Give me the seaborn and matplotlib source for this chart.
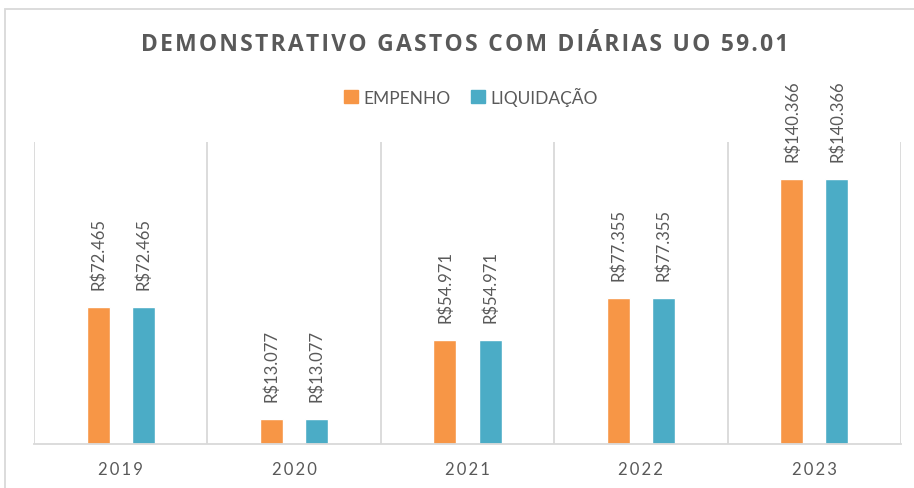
import matplotlib
matplotlib.use("Agg")
import matplotlib.pyplot as plt
import matplotlib.patches as patches
import pandas as pd
import seaborn as sns

# ---------------------------------------------------------------------------
# Data
# ---------------------------------------------------------------------------
ANOS = ["2019", "2020", "2021", "2022", "2023"]
EMPENHO = [72465, 13077, 54971, 77355, 140366]
LIQUIDACAO = [72465, 13077, 54971, 77355, 140366]
SERIES = ["EMPENHO", "LIQUIDAÇÃO"]
TITULO = "DEMONSTRATIVO GASTOS COM DIÁRIAS UO 59.01"

CORES = ["#F79646", "#4BACC6"]
CINZA_TEXTO = "#595959"
CINZA_LINHA = "#D9D9D9"


def espacado(texto, sep="\u200a"):
    """Fake letter spacing with hair spaces."""
    return sep.join(texto)


def moeda(v):
    return "R$" + f"{v:,.0f}".replace(",", ".")


df = pd.DataFrame({
    "ano": ANOS * 2,
    "serie": [SERIES[0]] * len(ANOS) + [SERIES[1]] * len(ANOS),
    "valor": EMPENHO + LIQUIDACAO,
})

sns.set_theme(style="white")
plt.rcParams["font.family"] = ["Lato", "DejaVu Sans"]

fig = plt.figure(figsize=(9.14, 4.89), dpi=100)
ax = fig.add_axes([34 / 914, 1 - 445 / 489, (901 - 34) / 914, (445 - 143) / 489])

sns.barplot(data=df, x="ano", y="valor", hue="serie", palette=CORES,
            width=0.52, gap=0.49, ax=ax, legend=False, saturation=1)

for cont in ax.containers:
    ax.bar_label(cont, labels=[moeda(b.get_height()) for b in cont],
                 rotation=90, padding=13, fontsize=12, color=CINZA_TEXTO)

ax.set_xlim(-0.5, len(ANOS) - 0.5)
ax.set_ylim(0, 160000)
for x in range(len(ANOS) + 1):
    ax.axvline(x - 0.5, color=CINZA_LINHA, lw=1.3, zorder=0)
for s in ["top", "left", "right"]:
    ax.spines[s].set_visible(False)
ax.spines["bottom"].set_color(CINZA_LINHA)
ax.spines["bottom"].set_linewidth(1.3)
ax.set_yticks([])
ax.set_xlabel("")
ax.set_ylabel("")
ax.set_xticks(range(len(ANOS)))
ax.set_xticklabels([espacado(a, "\u2009") for a in ANOS], fontsize=12, color=CINZA_TEXTO)
ax.tick_params(axis="x", length=0, pad=12)

fig.text(0.508, 1 - 45 / 489, espacado(TITULO), ha="center", va="center",
         fontsize=16.5, fontweight="bold", color=CINZA_TEXTO,
         family=["Open Sans", "DejaVu Sans"])

handles = [patches.Patch(color=c) for c in CORES]
fig.legend(handles, SERIES, loc="center", bbox_to_anchor=(0.515, 1 - 97 / 489),
           ncol=2, frameon=False, fontsize=12.5, handlelength=0.8, handleheight=0.8,
           handletextpad=0.3, columnspacing=1.2, labelcolor=CINZA_TEXTO)

fig.patches.append(patches.Rectangle((5 / 914, -0.05), 1.1, 1 - 10 / 489 + 0.05,
                                     transform=fig.transFigure, fill=False,
                                     edgecolor=CINZA_LINHA, lw=1.3))

fig.savefig("out.png", dpi=100)
